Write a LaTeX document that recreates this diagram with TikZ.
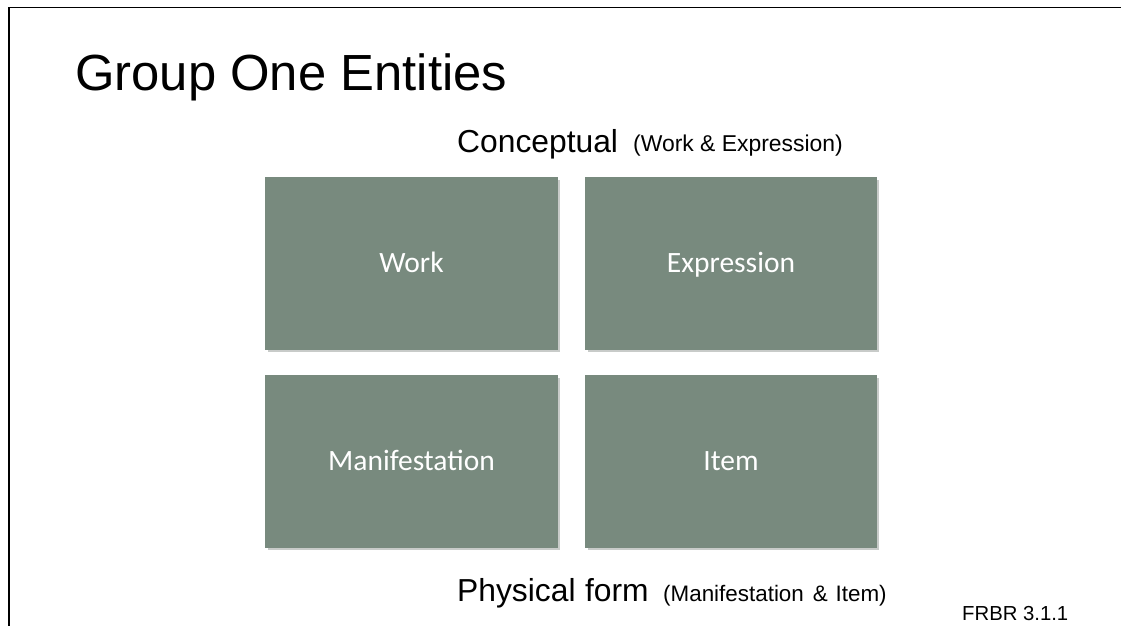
\documentclass[tikz,border=0pt]{standalone}
\usepackage{fontspec}
\setmainfont{Liberation Sans}
\newfontfamily\boxfont{Carlito}
\definecolor{boxgreen}{HTML}{788A7E}
\definecolor{shadowgray}{HTML}{C8CBC9}
\begin{document}
\begin{tikzpicture}[x=1pt,y=-1pt,
  entity/.style={fill=boxgreen, minimum height=173pt, inner sep=0pt,
     text height=20pt, text depth=1.5pt,
     text=white, font=\boxfont\fontsize{29.5}{31}\selectfont},
  shade/.style={fill=shadowgray, draw=none},
  txt/.style={inner sep=0pt, anchor=base west, text=black}]
\useasboundingbox (0,0) rectangle (1121,626);
\fill[white] (0,0) rectangle (1121,626);
\draw[line width=1.5pt] (9,626) -- (9,7.5) -- (1121,7.5);
\node[txt, font=\fontsize{50.8}{52}\selectfont] (title) at (75,90) {Group One Entities};
\node[txt, font=\fontsize{31.8}{33}\selectfont] (concept) at (457,152) {Conceptual};
\node[txt, font=\fontsize{22.9}{24}\selectfont] (conceptsub) at (633,151) {(Work \& Expression)};
% shadows
\fill[shade] (268,180) rectangle (560,352);
\fill[shade] (588,180) rectangle (879,352);
\fill[shade] (268,378) rectangle (560,550);
\fill[shade] (588,378) rectangle (879,550);
\node[entity, minimum width=293pt] (work) at (411.5,263.5) {Work};
\node[entity, minimum width=292pt] (expr) at (731,263.5) {Expression};
\node[entity, minimum width=293pt] (manif) at (411.5,461.5) {Manifestation};
\node[entity, minimum width=292pt] (item) at (731,461.5) {Item};
\node[txt, font=\fontsize{31.8}{33}\selectfont] (phys) at (457,601) {Physical\hspace{0.3em}form};
\node[txt, font=\fontsize{22.4}{24}\selectfont] (physsub) at (663,601) {(Manifestation\hspace{0.4em}\&\hspace{0.35em}Item)};
\node[txt, font=\fontsize{20.3}{22}\selectfont] (frbr) at (962,620) {FRBR 3.1.1};
\end{tikzpicture}
\end{document}
